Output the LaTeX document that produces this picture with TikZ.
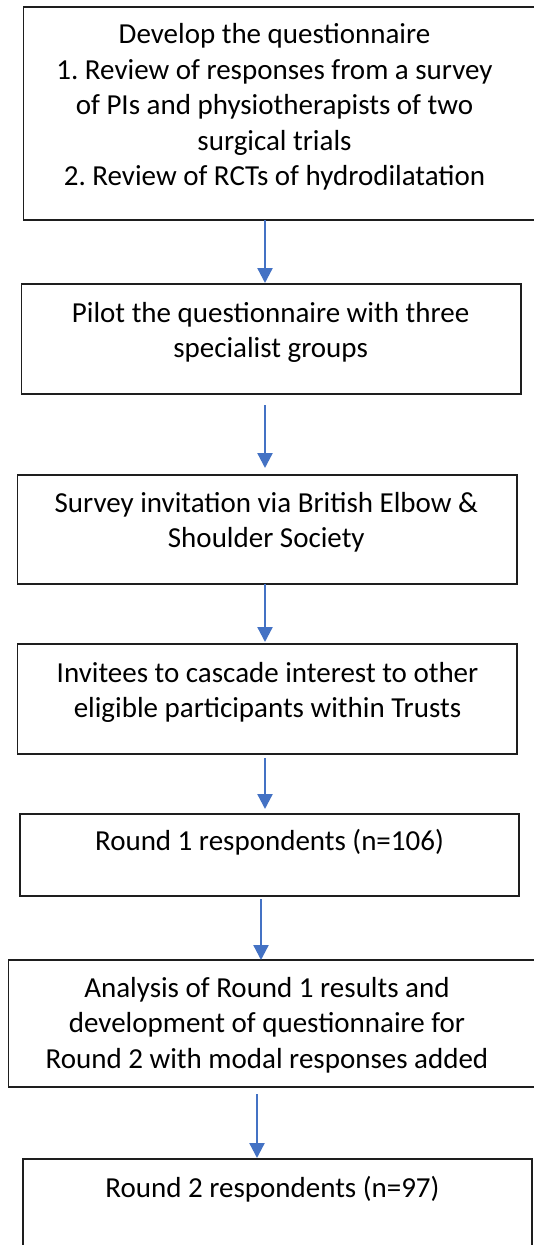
\documentclass[tikz,border=0pt]{standalone}
\usepackage{fontspec}
\setmainfont{Carlito}
\usetikzlibrary{arrows.meta}
\frenchspacing
\definecolor{arrblue}{HTML}{4472C4}
\definecolor{boxline}{HTML}{1E1E1E}
\tikzset{
  stepbox/.style={draw=boxline, line width=1.6pt, fill=none, inner sep=0pt, outer sep=0pt},
  boxtext/.style={anchor=base, inner sep=0pt, font=\fontsize{29}{35.6}\selectfont},
  flowarrow/.style={draw=arrblue, line width=2.3pt, -{Triangle[width=15pt,length=15pt]}},
}
\newcommand{\boxat}[5]{% name, left, top, right, bottom
  \path[stepbox] (#2,#3) rectangle (#4,#5);
  \node[inner sep=0pt, outer sep=0pt, minimum width={(#4-#2)*1pt}, minimum height={(#5-#3)*1pt}] (#1) at ({(#2+#4)/2},{(#3+#5)/2}) {};
}
\newcommand{\ptext}[1]{\parbox[t]{520pt}{\centering\frenchspacing #1}}
\begin{document}
\begin{tikzpicture}[x=1pt, y=-1pt]
\useasboundingbox (0,0) rectangle (534,1245);
\clip (0,0) rectangle (534,1245);
\fill[white] (0,0) rectangle (534,1245);

\boxat{b1}{23.5}{7}{545}{220}
\boxat{b2}{21.3}{284}{521}{394}
\boxat{b3}{17.3}{475}{516.7}{584}
\boxat{b4}{17.3}{644}{517}{754}
\boxat{b5}{20}{814}{519}{896}
\boxat{b6}{8.3}{960}{545}{1087}
\boxat{b7}{22.7}{1159}{532}{1265}

\node[boxtext] (t1) at (274.5,43.5) {\ptext{Develop the questionnaire\\1. Review of responses from a survey\\of PIs and physiotherapists of two\\surgical trials\\2. Review of RCTs of hydrodilatation}};
\node[boxtext] (t2) at (270.6,322) {\ptext{Pilot the questionnaire with three\\specialist groups}};
\node[boxtext] (t3) at (266.3,512) {\ptext{Survey invitation via British Elbow \&\\Shoulder Society}};
\node[boxtext] (t4) at (267.5,682) {\ptext{Invitees to cascade interest to other\\eligible participants within Trusts}};
\node[boxtext] (t5) at (269.5,850) {\ptext{Round 1 respondents (n=106)}};
\node[boxtext] (t6) at (267,997) {\ptext{Analysis of Round 1 results and\\development of questionnaire for\\Round 2 with modal responses added}};
\node[boxtext] (t7) at (272.5,1197) {\ptext{Round 2 respondents (n=97)}};

\coordinate (c1) at (265,0);
\coordinate (c5) at (261,0);
\coordinate (c6) at (257,0);
\draw[flowarrow, shorten >=1pt] (c1 |- b1.south) -- (c1 |- b2.north);
\draw[flowarrow, shorten <=11pt, shorten >=7pt] (c1 |- b2.south) -- (c1 |- b3.north);
\draw[flowarrow, shorten >=2pt] (c1 |- b3.south) -- (c1 |- b4.north);
\draw[flowarrow, shorten <=4pt, shorten >=5pt] (c1 |- b4.south) -- (c1 |- b5.north);
\draw[flowarrow, shorten <=3pt] (c5 |- b5.south) -- (c5 |- b6.north);
\draw[flowarrow, shorten <=7pt, shorten >=1pt] (c6 |- b6.south) -- (c6 |- b7.north);
\end{tikzpicture}
\end{document}
